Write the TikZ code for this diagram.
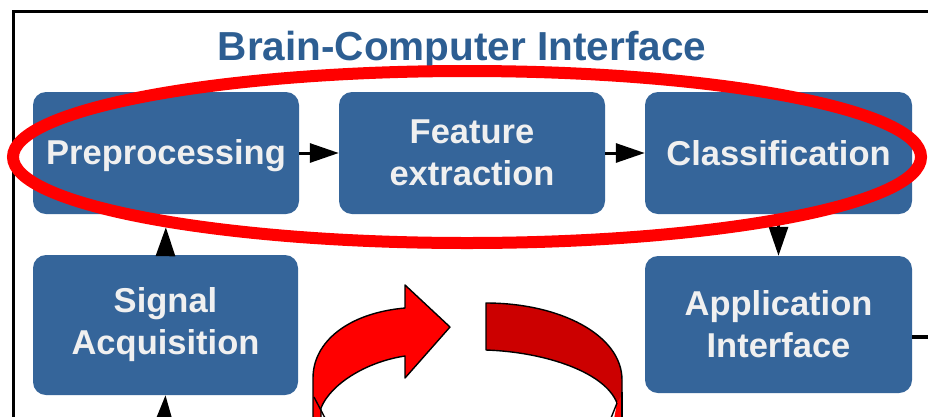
\documentclass[tikz,border=0pt]{standalone}
\usepackage{fontspec}
\setmainfont{Liberation Sans}
\usetikzlibrary{arrows.meta}
\definecolor{boxblue}{HTML}{35659A}
\definecolor{titleblue}{HTML}{2D5E92}
\definecolor{darkred}{HTML}{CC0000}
\tikzset{
  blk/.style={fill=boxblue, rounded corners=13pt, inner sep=0pt, align=center,
    text=white!94!black, font=\fontsize{34.5}{42}\selectfont\bfseries},
  arr/.style={line width=3pt, -{Triangle[length=29pt,width=19pt]}},
  ring/.style={draw=black, line width=1.4pt, line join=round},
}
% lower a single text line without changing its reported size
\newcommand{\lowerby}[2]{\raisebox{-#1}[\height][\depth]{#2}}
\begin{document}
\begin{tikzpicture}[x=1pt,y=-1pt]
\useasboundingbox (0,0) rectangle (928,416);
\fill[white] (0,0) rectangle (928,416);
\begin{scope}
\clip (0,0) rectangle (928,416);

% outer frame
\draw[line width=3pt] (13,430) -- (13,11) -- (940,11);

% title
\node[text=titleblue, font=\fontsize{40.5}{46}\selectfont\bfseries] (title) at (462,50) {Brain-Computer Interface};

% processing blocks
\node[blk, minimum width=266pt, minimum height=122pt] (pre) at (166,153) {\lowerby{3pt}{Preprocessing}};
\node[blk, minimum width=266pt, minimum height=122pt] (fe)  at (472,153) {Feature\\extraction};
\node[blk, minimum width=267pt, minimum height=122pt] (cls) at (778.5,153) {Classification};
\node[blk, minimum width=265pt, minimum height=140pt] (sig) at (165.5,325) {Signal\\Acquisition};
\node[blk, minimum width=267pt, minimum height=137pt] (app) at (778.5,324.5) {Application\\Interface};

% connectors
\coordinate (sigin) at (163,440);
\coordinate (appout) at (940,337);
\draw[arr] (pre.east) -- (fe.west);
\draw[arr] (fe.east) -- (cls.west);
\draw[arr] (cls.south) -- (app.north);
\draw[arr, shorten >=13pt] (sig.north) -- (pre.south);
\draw[arr] (sigin) -- (sig.south);
\draw[line width=4pt] ([yshift=-12.5pt]app.east) -- (appout);

% highlight ellipse
\draw[red, line width=12pt] (467,157) ellipse [x radius=454, y radius=86];

% circular arrow, left half with head
\draw[ring, fill=red] (313,430) -- (313,378)
  .. controls (313,342) and (348,313) .. (405,308)
  -- (405,285) -- (450,327) -- (405,378) -- (405,356)
  .. controls (365,362) and (330,385) .. (321,408) -- (321,430) -- cycle;
\draw[ring] (314,397) -- (325,418);
% circular arrow, right half
\draw[ring, fill=darkred] (486,303)
  .. controls (560,303) and (622,335) .. (622,380) -- (622,430)
  -- (617,430) -- (617,403)
  .. controls (605,372) and (545,352) .. (486,350) -- cycle;
\fill[red] (617,403) -- (622,395) -- (622,430) -- (612,430) -- cycle;
\draw[ring] (617,403) -- (611,418);
\draw[ring] (622,392) -- (622,430);
\end{scope}
\end{tikzpicture}
\end{document}
